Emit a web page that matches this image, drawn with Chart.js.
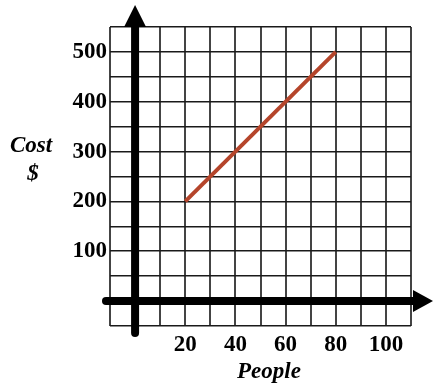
<!DOCTYPE html>
<html>
<head>
<meta charset="utf-8">
<script src="https://cdn.jsdelivr.net/npm/chart.js@4/dist/chart.umd.min.js"></script>
<style>
  html, body { margin: 0; padding: 0; background: #fff; }
  #wrap { width: 433px; height: 385px; position: relative; }
</style>
</head>
<body>
<div id="wrap"><canvas id="costChart"></canvas></div>
<script>
// dữ liệu của biểu đồ
const people = [20, 80];
const cost = [200, 500];
const xTickLabels = [20, 40, 60, 80, 100];
const yTickLabels = [100, 200, 300, 400, 500];
const xTitle = 'People';
const yTitle = ['Cost', '$'];

const serif = "'Liberation Serif', 'Times New Roman', serif";

// vẽ trục đen dày có mũi tên + tiêu đề trục
const axesPlugin = {
    id: 'arrowAxes',
    afterDatasetsDraw(chart) {
        const ctx = chart.ctx;
        const area = chart.chartArea;
        const x0 = chart.scales.x.getPixelForValue(0);
        const y0 = chart.scales.y.getPixelForValue(0);
        ctx.save();
        ctx.strokeStyle = '#000';
        ctx.fillStyle = '#000';
        ctx.lineWidth = 8;
        ctx.lineCap = 'round';

        // trục dọc
        ctx.beginPath();
        ctx.moveTo(x0, area.bottom + 7);
        ctx.lineTo(x0, area.top);
        ctx.stroke();
        ctx.beginPath();
        ctx.moveTo(x0 - 11, area.top);
        ctx.lineTo(x0, area.top - 22);
        ctx.lineTo(x0 + 11, area.top);
        ctx.closePath();
        ctx.fill();

        // trục ngang
        ctx.beginPath();
        ctx.moveTo(area.left - 4, y0);
        ctx.lineTo(area.right + 2, y0);
        ctx.stroke();
        ctx.beginPath();
        ctx.moveTo(area.right + 2, y0 - 11);
        ctx.lineTo(area.right + 22, y0);
        ctx.lineTo(area.right + 2, y0 + 11);
        ctx.closePath();
        ctx.fill();

        // tiêu đề
        ctx.font = `italic bold 23px ${serif}`;
        ctx.textAlign = 'center';
        ctx.textBaseline = 'middle';
        ctx.fillText(yTitle[0], 31, 146);
        ctx.fillText(yTitle[1], 33, 174);
        ctx.fillText(xTitle, 269, 372);
        ctx.restore();
    }
};

const ctx = document.getElementById('costChart').getContext('2d');
new Chart(ctx, {
    type: 'scatter',
    data: {
        datasets: [{
            data: people.map((p, i) => ({ x: p, y: cost[i] })),
            showLine: true,
            borderColor: '#b5452b',
            borderWidth: 4,
            pointRadius: 0,
            fill: false
        }]
    },
    options: {
        responsive: true,
        maintainAspectRatio: false,
        animation: false,
        layout: { padding: { top: 27, right: 22, left: 0, bottom: 0 } },
        plugins: { legend: { display: false }, tooltip: { enabled: false } },
        scales: {
            x: {
                type: 'linear',
                min: -10,
                max: 110,
                afterFit(scale) { scale.height = 59; },
                border: { display: false },
                grid: { color: '#444', lineWidth: 2, drawTicks: false },
                ticks: {
                    stepSize: 10,
                    padding: 5,
                    autoSkip: false,
                    maxRotation: 0,
                    color: '#000',
                    font: { family: serif, size: 23, weight: 'bold' },
                    callback: v => xTickLabels.includes(v) ? String(v) : ''
                }
            },
            y: {
                type: 'linear',
                min: -50,
                max: 550,
                afterFit(scale) { scale.width = 110; },
                border: { display: false },
                grid: { color: '#1a1a1a', lineWidth: 1.6, drawTicks: false },
                ticks: {
                    stepSize: 50,
                    padding: 3,
                    autoSkip: false,
                    color: '#000',
                    font: { family: serif, size: 23, weight: 'bold' },
                    callback: v => yTickLabels.includes(v) ? String(v) : ''
                }
            }
        }
    },
    plugins: [axesPlugin]
});
</script>
</body>
</html>
